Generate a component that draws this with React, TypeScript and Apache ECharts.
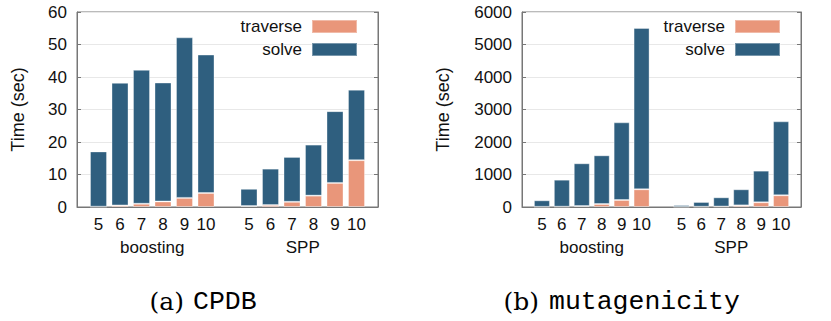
import React, { useEffect, useRef } from "react";
import * as echarts from "echarts";

const groups = ["boosting", "SPP"];
const tickLabels = ["", "5", "6", "7", "8", "9", "10", "", "5", "6", "7", "8", "9", "10", ""];

// CPDB (sec): totals and traverse part, per group (depth 5..10)
const cpdbBoostTotal = [17.1, 38.2, 42.2, 38.3, 52.2, 46.9];
const cpdbBoostTraverse = [0.1, 0.5, 1.0, 1.7, 2.8, 4.3];
const cpdbSppTotal = [5.6, 11.8, 15.4, 19.2, 29.5, 36.1];
const cpdbSppTraverse = [0.3, 0.6, 1.6, 3.5, 7.4, 14.4];

// mutagenicity (sec)
const mutaBoostTotal = [206, 840, 1345, 1590, 2605, 5508];
const mutaBoostTraverse = [5, 10, 30, 92, 215, 545];
const mutaSppTotal = [60, 154, 298, 545, 1118, 2636];
const mutaSppTraverse = [3, 8, 15, 50, 145, 360];

const TRAVERSE_COLOR = "#E9967A";
const SOLVE_COLOR = "#2F5F7F";
const FONT = "Liberation Sans, Arial, Helvetica, sans-serif";
const FS = 17;

function layout(a: (number | null)[], b: (number | null)[]) {
  return [null, ...a, null, ...b, null];
}
function diff(t: number[], p: number[]) {
  return t.map((v, i) => +(v - p[i]).toFixed(3));
}

export default function App() {
  const ref = useRef<HTMLDivElement>(null);
  useEffect(() => {
    if (!ref.current) return;
    const chart = echarts.init(ref.current, undefined, { renderer: "svg" });

    const grids = [
      { left: 77, top: 12, width: 301, height: 195 },
      { left: 522, top: 12, width: 279, height: 195 },
    ];
    const yDefs = [
      { max: 60, interval: 10, nameGap: 50 },
      { max: 6000, interval: 1000, nameGap: 70 },
    ];

    const xAxis: any[] = [];
    const yAxis: any[] = [];
    grids.forEach((g, gi) => {
      xAxis.push({
        type: "category",
        gridIndex: gi,
        data: tickLabels,
        boundaryGap: false,
        axisLine: { show: true, lineStyle: { color: "#777", width: 1 } },
        axisTick: { show: false },
        axisLabel: { fontSize: FS, color: "#111", fontFamily: FONT, margin: 9, interval: 0 },
        splitLine: { show: false },
      });
      xAxis.push({
        type: "category",
        gridIndex: gi,
        position: "bottom",
        data: groups,
        boundaryGap: true,
        axisLine: { show: false },
        axisTick: { show: false },
        axisLabel: { fontSize: FS, color: "#111", fontFamily: FONT, margin: 32 },
        splitLine: { show: false },
      });
      yAxis.push({
        type: "value",
        gridIndex: gi,
        min: 0,
        max: yDefs[gi].max,
        interval: yDefs[gi].interval,
        position: "left",
        name: "Time (sec)",
        nameLocation: "middle",
        nameGap: yDefs[gi].nameGap,
        nameTextStyle: { fontSize: 18, color: "#111", fontFamily: FONT },
        axisLine: { show: true, lineStyle: { color: "#777", width: 1 } },
        axisTick: { show: true, inside: true, length: 4, lineStyle: { color: "#777" } },
        axisLabel: {
          fontSize: FS,
          color: "#111",
          fontFamily: FONT,
          margin: 10,
          formatter: (v: number) => String(v),
        },
        splitLine: { show: true, lineStyle: { color: "#e8e8e8", width: 1 } },
      });
      yAxis.push({
        type: "value",
        gridIndex: gi,
        min: 0,
        max: yDefs[gi].max,
        interval: yDefs[gi].interval,
        position: "right",
        axisLine: { show: true, lineStyle: { color: "#777", width: 1 } },
        axisTick: { show: true, inside: true, length: 4, lineStyle: { color: "#777" } },
        axisLabel: { show: false },
        splitLine: { show: false },
      });
    });

    const dataSets = [
      {
        traverse: layout(cpdbBoostTraverse, cpdbSppTraverse),
        solve: layout(diff(cpdbBoostTotal, cpdbBoostTraverse), diff(cpdbSppTotal, cpdbSppTraverse)),
        barWidth: 17,
      },
      {
        traverse: layout(mutaBoostTraverse, mutaSppTraverse),
        solve: layout(diff(mutaBoostTotal, mutaBoostTraverse), diff(mutaSppTotal, mutaSppTraverse)),
        barWidth: 16,
      },
    ];

    const series: any[] = [];
    dataSets.forEach((d, gi) => {
      series.push({
        name: "traverse",
        type: "bar",
        stack: "s" + gi,
        xAxisIndex: gi * 2,
        yAxisIndex: gi * 2,
        barWidth: d.barWidth,
        data: d.traverse,
        itemStyle: { color: TRAVERSE_COLOR, borderColor: "rgba(255,255,255,0.35)", borderWidth: 1 },
      });
      series.push({
        name: "solve",
        type: "bar",
        stack: "s" + gi,
        xAxisIndex: gi * 2,
        yAxisIndex: gi * 2,
        barWidth: d.barWidth,
        data: d.solve,
        itemStyle: { color: SOLVE_COLOR, borderColor: "rgba(255,255,255,0.35)", borderWidth: 1 },
      });
    });

    const legendBase = {
      orient: "vertical",
      align: "right",
      top: 18,
      itemGap: 6,
      itemWidth: 45,
      itemHeight: 13,
      padding: 0,
      icon: "rect",
      selectedMode: false,
      data: ["traverse", "solve"],
      textStyle: { fontSize: FS, color: "#111", fontFamily: FONT, padding: [0, 5, 0, 0] },
    };

    const serif = { fontFamily: "DejaVu Serif, serif", fontSize: 25, fill: "#000" };
    const mono = { fontFamily: "Liberation Mono, monospace", fontSize: 26.5, fill: "#000" };

    chart.setOption({
      animation: false,
      backgroundColor: "#fff",
      grid: grids.map((g) => ({ ...g, show: true, borderColor: "#777", borderWidth: 1, backgroundColor: "transparent" })),
      xAxis,
      yAxis,
      legend: [
        { ...legendBase, right: 831 - 358 },
        { ...legendBase, right: 831 - 781 },
      ],
      series,
      graphic: [
        { type: "text", x: 184, y: 301, style: { ...serif, text: "(a)", align: "right", verticalAlign: "middle" } },
        { type: "text", x: 193, y: 302, style: { ...mono, text: "CPDB", align: "left", verticalAlign: "middle" } },
        { type: "text", x: 539, y: 301, style: { ...serif, text: "(b)", align: "right", verticalAlign: "middle" } },
        { type: "text", x: 549, y: 302, style: { ...mono, text: "mutagenicity", align: "left", verticalAlign: "middle" } },
      ],
    });
    return () => chart.dispose();
  }, []);

  return (
    <div
      ref={ref}
      style={{ position: "fixed", left: 0, top: 0, width: 831, height: 321, background: "#fff" }}
    />
  );
}
